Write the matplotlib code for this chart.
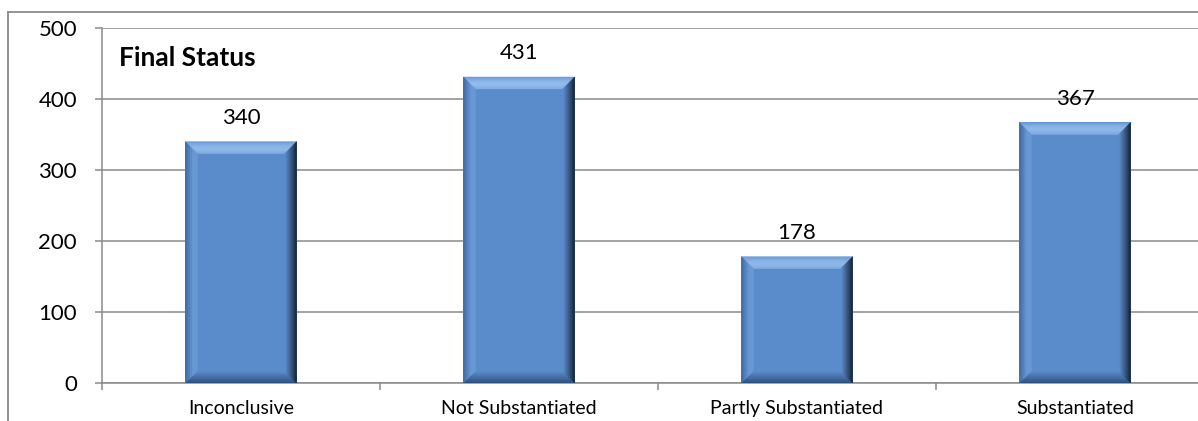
import matplotlib
matplotlib.use("Agg")
import matplotlib.pyplot as plt
from matplotlib.patches import Polygon
from matplotlib.lines import Line2D
from matplotlib.transforms import IdentityTransform
import numpy as np

categories = ["Inconclusive", "Not Substantiated", "Partly Substantiated", "Substantiated"]
counts = [340, 431, 178, 367]
y_ticks = [0, 100, 200, 300, 400, 500]
title = "Final Status"

plt.rcParams['font.family'] = ['Lato', 'DejaVu Sans']

W, H = 1198, 421
fig = plt.figure(figsize=(W / 100, H / 100), dpi=100)
ax = fig.add_axes([102 / W, 1 - 383 / H, 1 - 102 / W, (383 - 28) / H])

x = np.arange(len(categories))
face = "#5A8BCB"
bars = ax.bar(x, counts, width=0.4, color=face, zorder=3, linewidth=0)

ax.set_yticks(y_ticks)
ax.set_yticklabels([str(v) for v in y_ticks], fontsize=16)
ax.yaxis.grid(True, color="#8a8a8a", linewidth=1.1, zorder=0)
ax.set_axisbelow(True)
ax.tick_params(axis="y", length=5, width=1.1, color="#8a8a8a", pad=13)

ax.set_xticks(x)
ax.set_xticklabels(categories, fontsize=14)
ax.set_xticks(np.arange(-0.5, len(categories), 1.0), minor=True)
ax.tick_params(axis="x", which="major", length=0, pad=12.5)
ax.tick_params(axis="x", which="minor", length=5, width=1.1, color="#8a8a8a")

ax.set_ylim(0, 500)
ax.set_xlim(-0.5, -0.5 + (W - 102) / 278)

for s in ["top", "right"]:
    ax.spines[s].set_visible(False)
for s in ["left", "bottom"]:
    ax.spines[s].set_color("#8a8a8a")
    ax.spines[s].set_linewidth(1.1)

for xi, v in zip(x, counts):
    ax.annotate(str(v), (xi, v), xytext=(0, 10), textcoords="offset points",
                ha="center", va="bottom", fontsize=16, color="#000000")

ax.text(0.0155, 0.915, title, transform=ax.transAxes, ha="left", va="center",
        fontsize=19, fontweight="bold")

# bevel effect, computed from the drawn bars
fig.canvas.draw()

def mix(c1, c2, t):
    c1 = np.array(matplotlib.colors.to_rgb(c1))
    c2 = np.array(matplotlib.colors.to_rgb(c2))
    return tuple(c1 * (1 - t) + c2 * t)

b = 12
n = 12
for p in bars.patches:
    bb = p.get_window_extent()
    x0, x1, y0, y1 = bb.x0, bb.x1, bb.y0, bb.y1
    for i in range(n):
        t0 = i / n * b
        t1 = (i + 1) / n * b
        f = i / (n - 1)
        ctop = mix("#6E9DD8", "#94BCEC", np.sin(f * np.pi * 0.8))
        poly = [(x0 + t0, y1 - t0), (x1 - t0, y1 - t0), (x1 - t1, y1 - t1), (x0 + t1, y1 - t1)]
        ax.add_patch(Polygon(poly, closed=True, transform=IdentityTransform(),
                             facecolor=ctop, edgecolor=ctop, linewidth=0.3, zorder=4))
        cbot = mix("#2F527F", face, f)
        poly = [(x0 + t0, y0 + t0), (x1 - t0, y0 + t0), (x1 - t1, y0 + t1), (x0 + t1, y0 + t1)]
        ax.add_patch(Polygon(poly, closed=True, transform=IdentityTransform(),
                             facecolor=cbot, edgecolor=cbot, linewidth=0.3, zorder=4))
        cl = mix("#3E6AA3", "#6A9AD6", min(1, f * 1.5))
        poly = [(x0 + t0, y0 + t0), (x0 + t0, y1 - t0), (x0 + t1, y1 - t1), (x0 + t1, y0 + t1)]
        ax.add_patch(Polygon(poly, closed=True, transform=IdentityTransform(),
                             facecolor=cl, edgecolor=cl, linewidth=0.3, zorder=4))
        cr = mix("#0F1B2C", face, f ** 0.9)
        poly = [(x1 - t0, y0 + t0), (x1 - t0, y1 - t0), (x1 - t1, y1 - t1), (x1 - t1, y0 + t1)]
        ax.add_patch(Polygon(poly, closed=True, transform=IdentityTransform(),
                             facecolor=cr, edgecolor=cr, linewidth=0.3, zorder=4))

fig.add_artist(Line2D([8 / W, 8 / W], [0, 1 - 12 / H], transform=fig.transFigure,
                      color="#8a8a8a", linewidth=1.3))
fig.add_artist(Line2D([8 / W, 1], [1 - 12 / H, 1 - 12 / H], transform=fig.transFigure,
                      color="#8a8a8a", linewidth=1.3))

fig.savefig("out.png", dpi=100)
